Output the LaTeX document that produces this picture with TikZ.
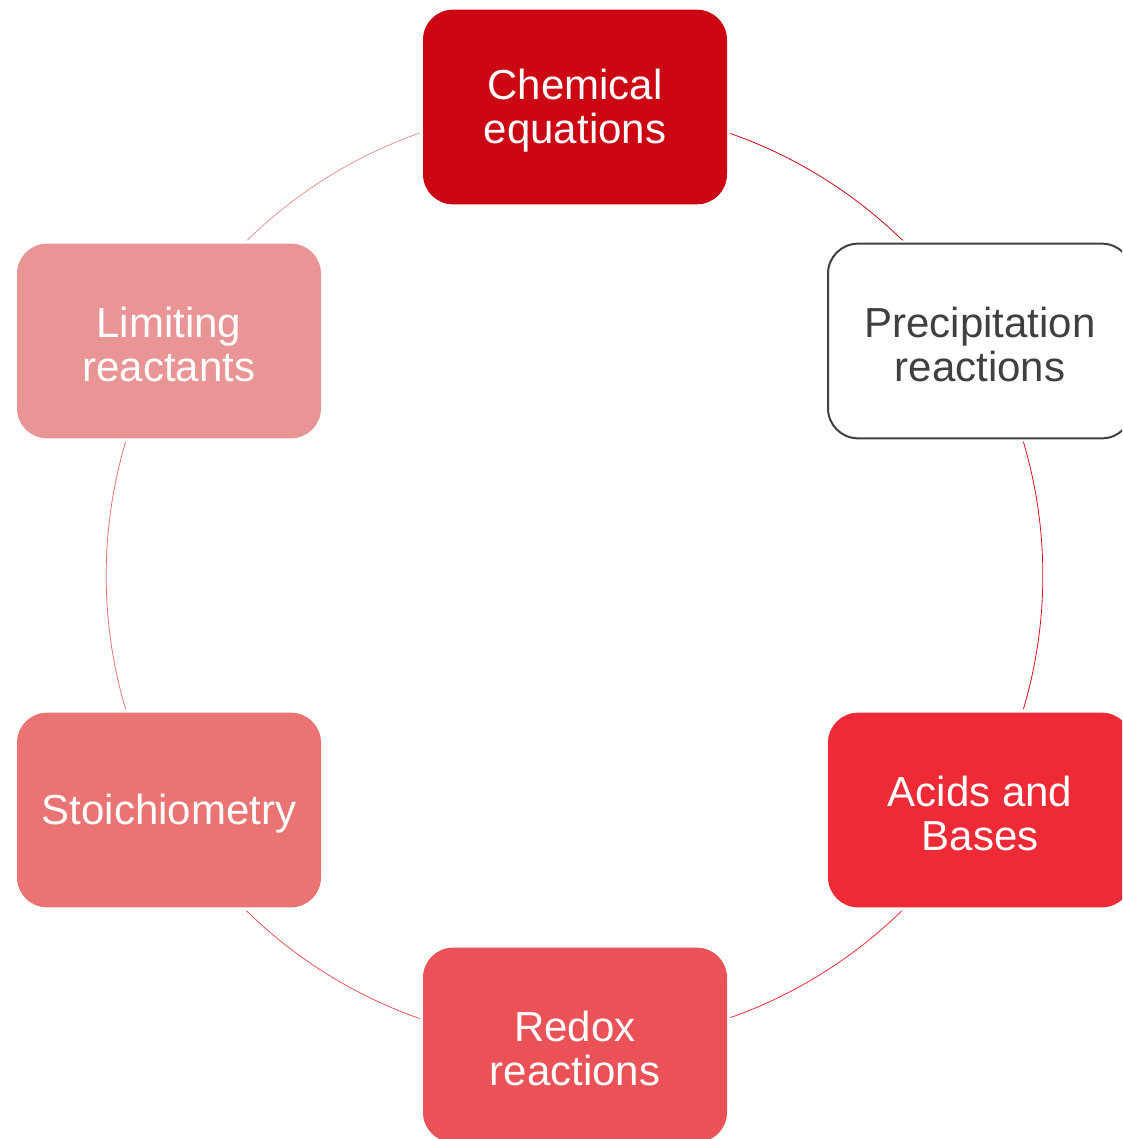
\documentclass[tikz,border=0pt]{standalone}
\usepackage{fontspec}
\setmainfont{Liberation Sans}
\definecolor{cChem}{HTML}{CC0612}
\definecolor{cPrec}{HTML}{404040}
\definecolor{cAcid}{HTML}{ED2A35}
\definecolor{cRedox}{HTML}{EB5257}
\definecolor{cStoi}{HTML}{EA7374}
\definecolor{cLim}{HTML}{EA9595}
\definecolor{cArcP}{HTML}{E01020}
\tikzset{
  topic/.style={rectangle, rounded corners=22.5pt, minimum width=228pt, minimum height=146pt,
    inner sep=0pt, preaction={draw=white, line width=5pt}},
  lbl/.style={align=center, text=white, font=\fontsize{31.5}{33}\selectfont, yshift=-2.5pt, inner sep=0pt},
  ring/.style={line width=0.6pt}
}
\begin{document}
\begin{tikzpicture}[x=0.75pt,y=-0.75pt]
\clip (0,0) rectangle (1122,1139);
\fill[white] (0,0) rectangle (1122,1139);
% positions on the ring (centre (574,576), radius 469)
\coordinate (pChem) at (575,107);
\coordinate (pPrec) at (980,341);
\coordinate (pAcid) at (980,810);
\coordinate (pRedox) at (575,1045);
\coordinate (pStoi) at (169,810);
\coordinate (pLim) at (169,341);
% ring arcs (drawn first, boxes on top)
\draw[ring, cChem] (pChem) arc[start angle=-90, end angle=-30, radius=469];
\draw[ring, cArcP] (pPrec) arc[start angle=-30, end angle=30, radius=469];
\draw[ring, cAcid] (pAcid) arc[start angle=30, end angle=90, radius=469];
\draw[ring, cRedox] (pRedox) arc[start angle=90, end angle=150, radius=469];
\draw[ring, cStoi] (pStoi) arc[start angle=150, end angle=210, radius=469];
\draw[ring, cLim] (pLim) arc[start angle=210, end angle=270, radius=469];
% boxes
\node[topic, fill=cChem, label={[lbl]center:{Chemical\\equations}}] (chem) at (pChem) {};
\node[topic, fill=white, draw=cPrec, line width=1.5pt, label={[lbl, text=cPrec]center:{Precipitation\\reactions}}] (prec) at (pPrec) {};
\node[topic, fill=cAcid, label={[lbl]center:{Acids and\\Bases}}] (acid) at (pAcid) {};
\node[topic, fill=cRedox, label={[lbl]center:{Redox\\reactions}}] (redox) at (pRedox) {};
\node[topic, fill=cStoi, label={[lbl]center:{Stoichiometry}}] (stoi) at (pStoi) {};
\node[topic, fill=cLim, label={[lbl]center:{Limiting\\reactants}}] (lim) at (pLim) {};
\end{tikzpicture}
\end{document}
